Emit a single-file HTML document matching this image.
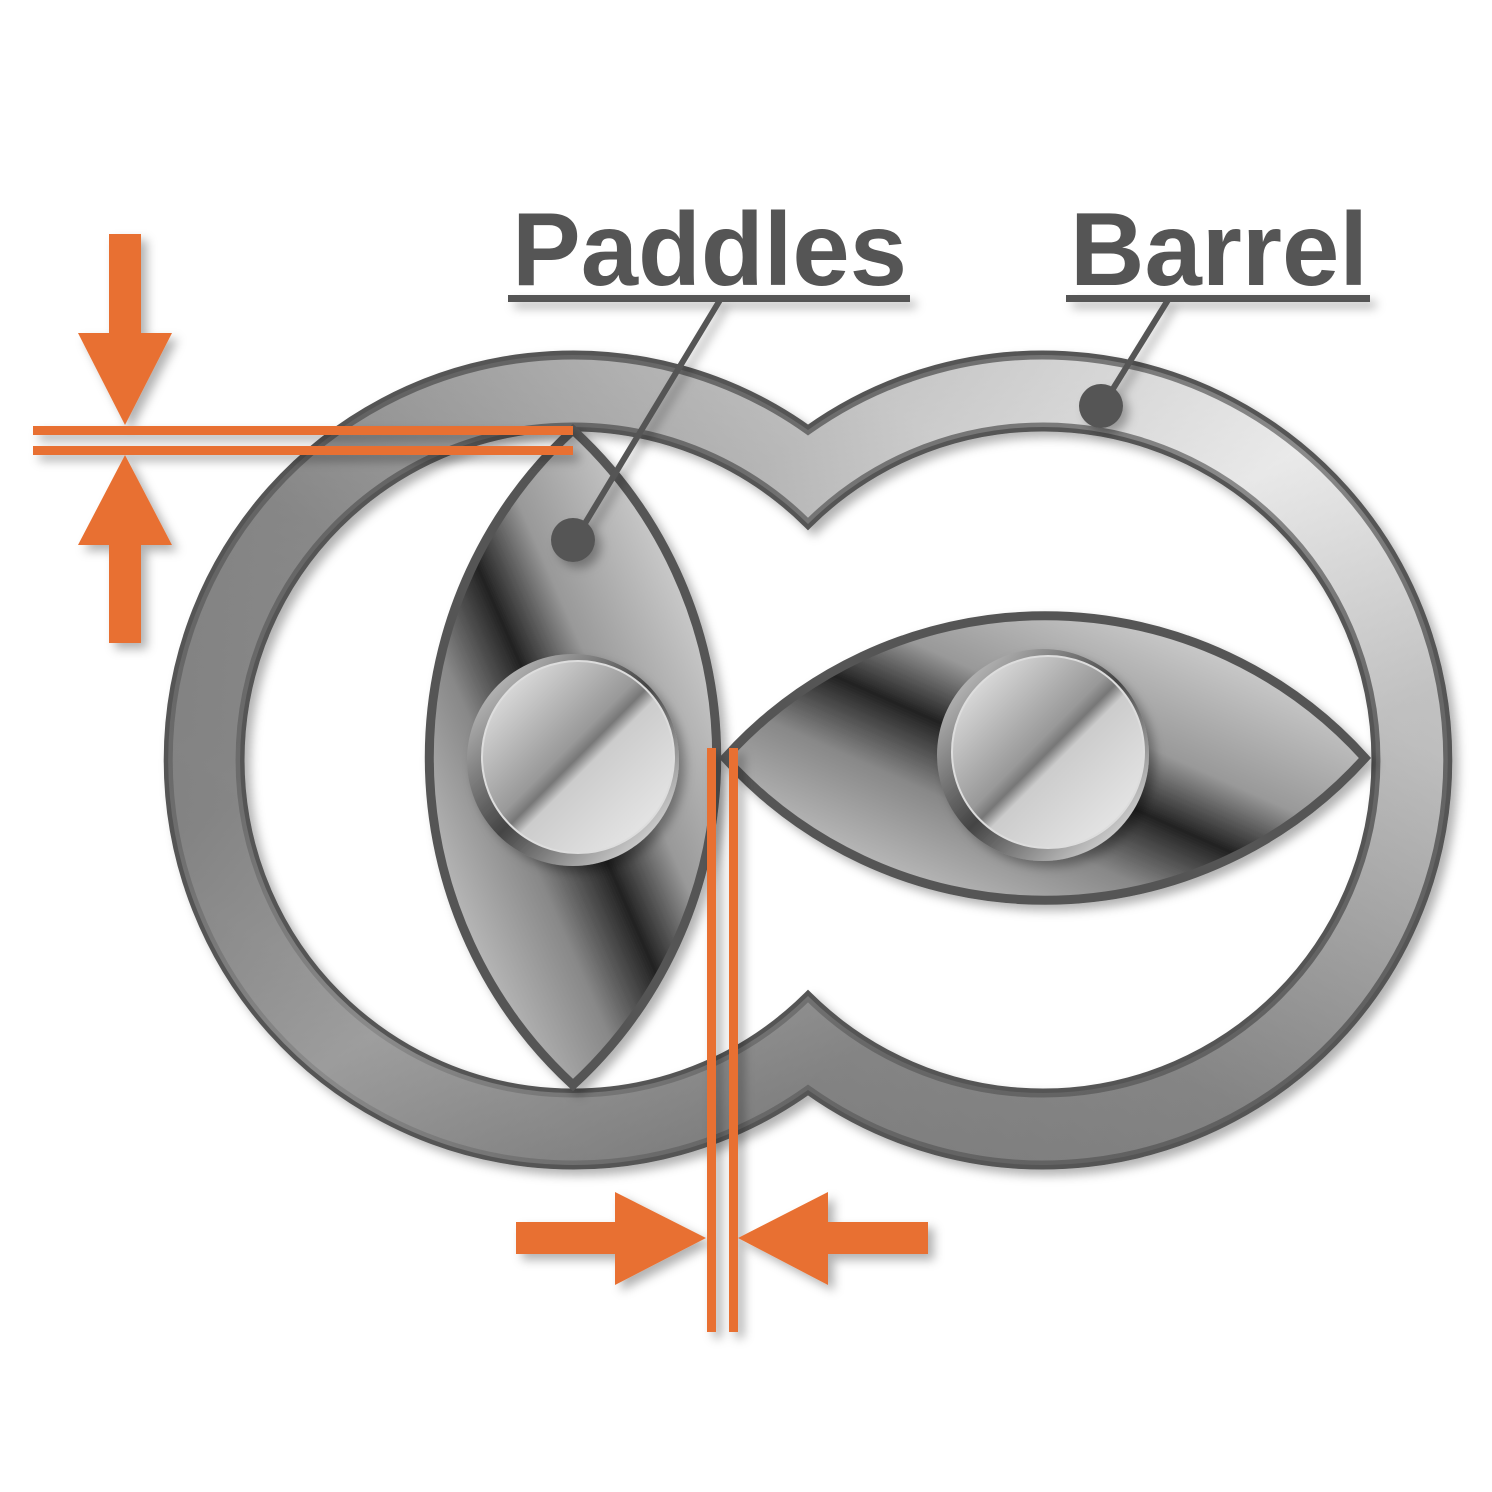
<!DOCTYPE html>
<html><head><meta charset="utf-8"><style>html,body{margin:0;padding:0;background:#fff}svg{display:block}</style></head>
<body>
<svg width="1492" height="1492" viewBox="0 0 1492 1492" xmlns="http://www.w3.org/2000/svg">
<defs>
<linearGradient id="barrel" x1="0" y1="0" x2="1" y2="1">
<stop offset="0" stop-color="#6a6a6a"/><stop offset="0.3" stop-color="#9a9a9a"/><stop offset="0.5" stop-color="#eeeeee"/><stop offset="0.7" stop-color="#8a8a8a"/><stop offset="1" stop-color="#6a6a6a"/>
</linearGradient>
<linearGradient id="bar2" x1="0" y1="1" x2="1" y2="0">
<stop offset="0" stop-color="#666"/><stop offset="0.45" stop-color="#8a8a8a"/><stop offset="0.75" stop-color="#dcdcdc"/><stop offset="1" stop-color="#f2f2f2"/>
</linearGradient>
<linearGradient id="pad" x1="0" y1="1" x2="1" y2="0">
<stop offset="0" stop-color="#e8e8e8"/><stop offset="0.35" stop-color="#888"/><stop offset="0.48" stop-color="#222"/><stop offset="0.6" stop-color="#999"/><stop offset="1" stop-color="#f0f0f0"/>
</linearGradient>
<linearGradient id="hub" x1="0" y1="0" x2="1" y2="1">
<stop offset="0" stop-color="#f4f4f4"/><stop offset="0.45" stop-color="#999"/><stop offset="0.5" stop-color="#777"/><stop offset="0.55" stop-color="#ccc"/><stop offset="1" stop-color="#eee"/>
</linearGradient>
<linearGradient id="hubr" x1="1" y1="1" x2="0" y2="0">
<stop offset="0" stop-color="#fff"/><stop offset="0.5" stop-color="#444"/><stop offset="1" stop-color="#ddd"/>
</linearGradient>
<filter id="sh" x="-10%" y="-10%" width="120%" height="120%"><feDropShadow dx="6" dy="6" stdDeviation="5" flood-color="#000" flood-opacity="0.3"/></filter>
</defs>

<g filter="url(#sh)">
<path fill="url(#bar2)" fill-rule="evenodd" stroke="#555" stroke-width="9" stroke-linejoin="miter"
d="M808,430 A405,405 0 1,0 808,1090 A405,405 0 1,0 808,430 Z
M808,524 A333,333 0 1,1 808,996 A333,333 0 1,1 808,524 Z"/>
</g>
<path fill="url(#barrel)" opacity="0.35" fill-rule="evenodd" d="M808,430 A405,405 0 1,0 808,1090 A405,405 0 1,0 808,430 Z M808,524 A333,333 0 1,1 808,996 A333,333 0 1,1 808,524 Z"/>

<g filter="url(#sh)">
<path fill="url(#pad)" stroke="#555" stroke-width="9" d="M573,430 A445,445 0 0,0 573,1085 A445,445 0 0,0 573,430 Z"/>
<path fill="url(#pad)" stroke="#555" stroke-width="9" d="M725,758 A431,431 0 0,1 1365,758 A431,431 0 0,1 725,758 Z"/>
</g>

<g filter="url(#sh)">
<circle cx="573" cy="760" r="106" fill="url(#hubr)"/>
<circle cx="1043" cy="755" r="106" fill="url(#hubr)"/>
</g>
<circle cx="578" cy="757" r="96" fill="url(#hub)" stroke="#ddd" stroke-width="2"/>
<circle cx="1048" cy="752" r="96" fill="url(#hub)" stroke="#ddd" stroke-width="2"/>

<g fill="#555" font-family="Liberation Sans, sans-serif" font-weight="bold" font-size="104">
<text x="512" y="285" textLength="395" lengthAdjust="spacingAndGlyphs">Paddles</text>
<text x="1070" y="285" textLength="298" lengthAdjust="spacingAndGlyphs">Barrel</text>
</g>
<g filter="url(#sh)">
<rect x="508" y="295" width="402" height="7" fill="#555"/>
<rect x="1066" y="295" width="304" height="7" fill="#555"/>
<line x1="720" y1="300" x2="575" y2="540" stroke="#555" stroke-width="6"/>
<circle cx="573" cy="540" r="22" fill="#555"/>
<line x1="1168" y1="300" x2="1103" y2="405" stroke="#555" stroke-width="6"/>
<circle cx="1101" cy="406" r="22" fill="#555"/>
</g>

<g fill="#E87030" filter="url(#sh)">
<rect x="33" y="426" width="540" height="9"/>
<rect x="33" y="446" width="540" height="9"/>
<rect x="109" y="234" width="32" height="102"/>
<polygon points="78,333 172,333 125,425"/>
<polygon points="78,545 172,545 125,455"/>
<rect x="109" y="543" width="32" height="100"/>
<rect x="707" y="748" width="9" height="584"/>
<rect x="729" y="748" width="9" height="584"/>
<rect x="516" y="1222" width="102" height="32"/>
<polygon points="615,1192 615,1285 706,1238"/>
<polygon points="828,1192 828,1285 738,1238"/>
<rect x="826" y="1222" width="102" height="32"/>
</g>
</svg>
</body></html>
